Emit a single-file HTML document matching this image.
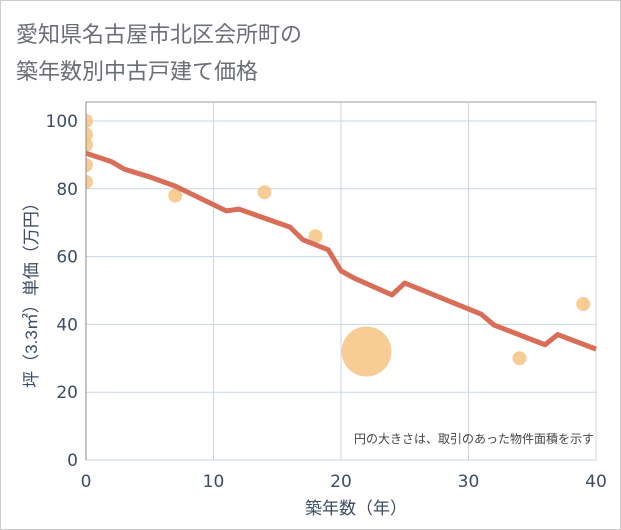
<!DOCTYPE html>
<html><head><meta charset="utf-8"><style>
body{margin:0;background:#fff;}
#wrap{position:relative;width:619px;height:528px;border:1px solid #ccc;background:#fff;font-family:"Liberation Sans","Noto Sans CJK JP",sans-serif;}
.title{position:absolute;left:15px;font-size:22px;color:#6b6f75;white-space:nowrap;}
</style></head><body>
<div id="wrap">
<div class="title" style="top:16px">愛知県名古屋市北区会所町の</div>
<div class="title" style="top:53px">築年数別中古戸建て価格</div>
<svg id="chart" width="621" height="530" style="position:absolute;left:-1px;top:-1px"><defs><clipPath id="pc"><rect x="86" y="102" width="510" height="358"/></clipPath></defs></svg>
</div>
<script>
const xTicks=[0,10,20,30,40];
const yTicks=[0,20,40,60,80,100];
const lineX=[0,2,3,5,7,11,12,16,17,19,20,21,24,25,31,32,36,37,40];
const lineY=[90.5,88,85.8,83.5,80.8,73.5,74,68.7,65,62,55.8,53.7,48.7,52.2,43,39.8,34,37,32.7];
const ptX=[0,0,0,0,0,7,14,18,22,34,39];
const ptY=[100,96,93,87,82,78,79,66,32,30,46];
const ptR=[7,7,7,7,7,7,7,7,25,7,7];
const svg=document.getElementById('chart');
const NS='http://www.w3.org/2000/svg';
const L=86,R=596,T=102,B=460;
const sx=v=>L+(R-L)*v/40;
const sy=v=>B-(B-121)*v/100;
const TF='DejaVu Sans, sans-serif';
function mk(t,a){const e=document.createElementNS(NS,t);for(const k in a)e.setAttribute(k,a[k]);svg.appendChild(e);return e;}
let bg=mk('rect',{x:L,y:T,width:R-L,height:B-T,fill:'#fff',stroke:'#999','stroke-width':1});


xTicks.forEach(v=>{
 let g=mk('line',{x1:sx(v),x2:sx(v),y1:T,y2:B,stroke:'#c8d6e3','stroke-width':1});
 
 
 let t=mk('text',{x:sx(v),y:B+27,'text-anchor':'middle','font-size':17,fill:'#3b4d63','font-family':TF});
 t.textContent=v;
 
 
});
yTicks.forEach(v=>{
 let g=mk('line',{x1:L,x2:R,y1:sy(v),y2:sy(v),stroke:'#c8d6e3','stroke-width':1});
 
 
 let t=mk('text',{x:L-8,y:sy(v)+6,'text-anchor':'end','font-size':17,fill:'#3b4d63','font-family':TF});
 t.textContent=v;
 
 
});
ptX.forEach((v,i)=>{
 let c=mk('circle',{cx:sx(v),cy:sy(ptY[i]),r:ptR[i],fill:'#f5c07a','fill-opacity':0.8,'clip-path':'url(#pc)'});
 
 
});
let ax=mk('line',{x1:L,x2:L,y1:T,y2:B,stroke:'#888','stroke-width':1});


let p=mk('polyline',{points:lineX.map((v,i)=>sx(v)+','+sy(lineY[i])).join(' '),fill:'none',stroke:'#d96e58','stroke-width':5,'stroke-linejoin':'round'});


let n=mk('text',{x:594,y:443,'text-anchor':'end','font-size':12,fill:'#444','font-family':'Liberation Sans, Noto Sans CJK JP, sans-serif'});
n.textContent='円の大きさは、取引のあった物件面積を示す';


let xt=mk('text',{x:sx(20)+15,y:514,'text-anchor':'middle','font-size':17,fill:'#3b4d63','font-family':'Liberation Sans, Noto Sans CJK JP, sans-serif'});
xt.textContent='築年数（年）';


let yt=mk('text',{x:0,y:0,'text-anchor':'middle','font-size':17,fill:'#3b4d63',transform:'translate(37,'+((T+B)/2+10)+') rotate(-90)','font-family':'Liberation Sans, Noto Sans CJK JP, sans-serif'});
yt.textContent='坪（3.3㎡）単価（万円）';


</script>
</body></html>
